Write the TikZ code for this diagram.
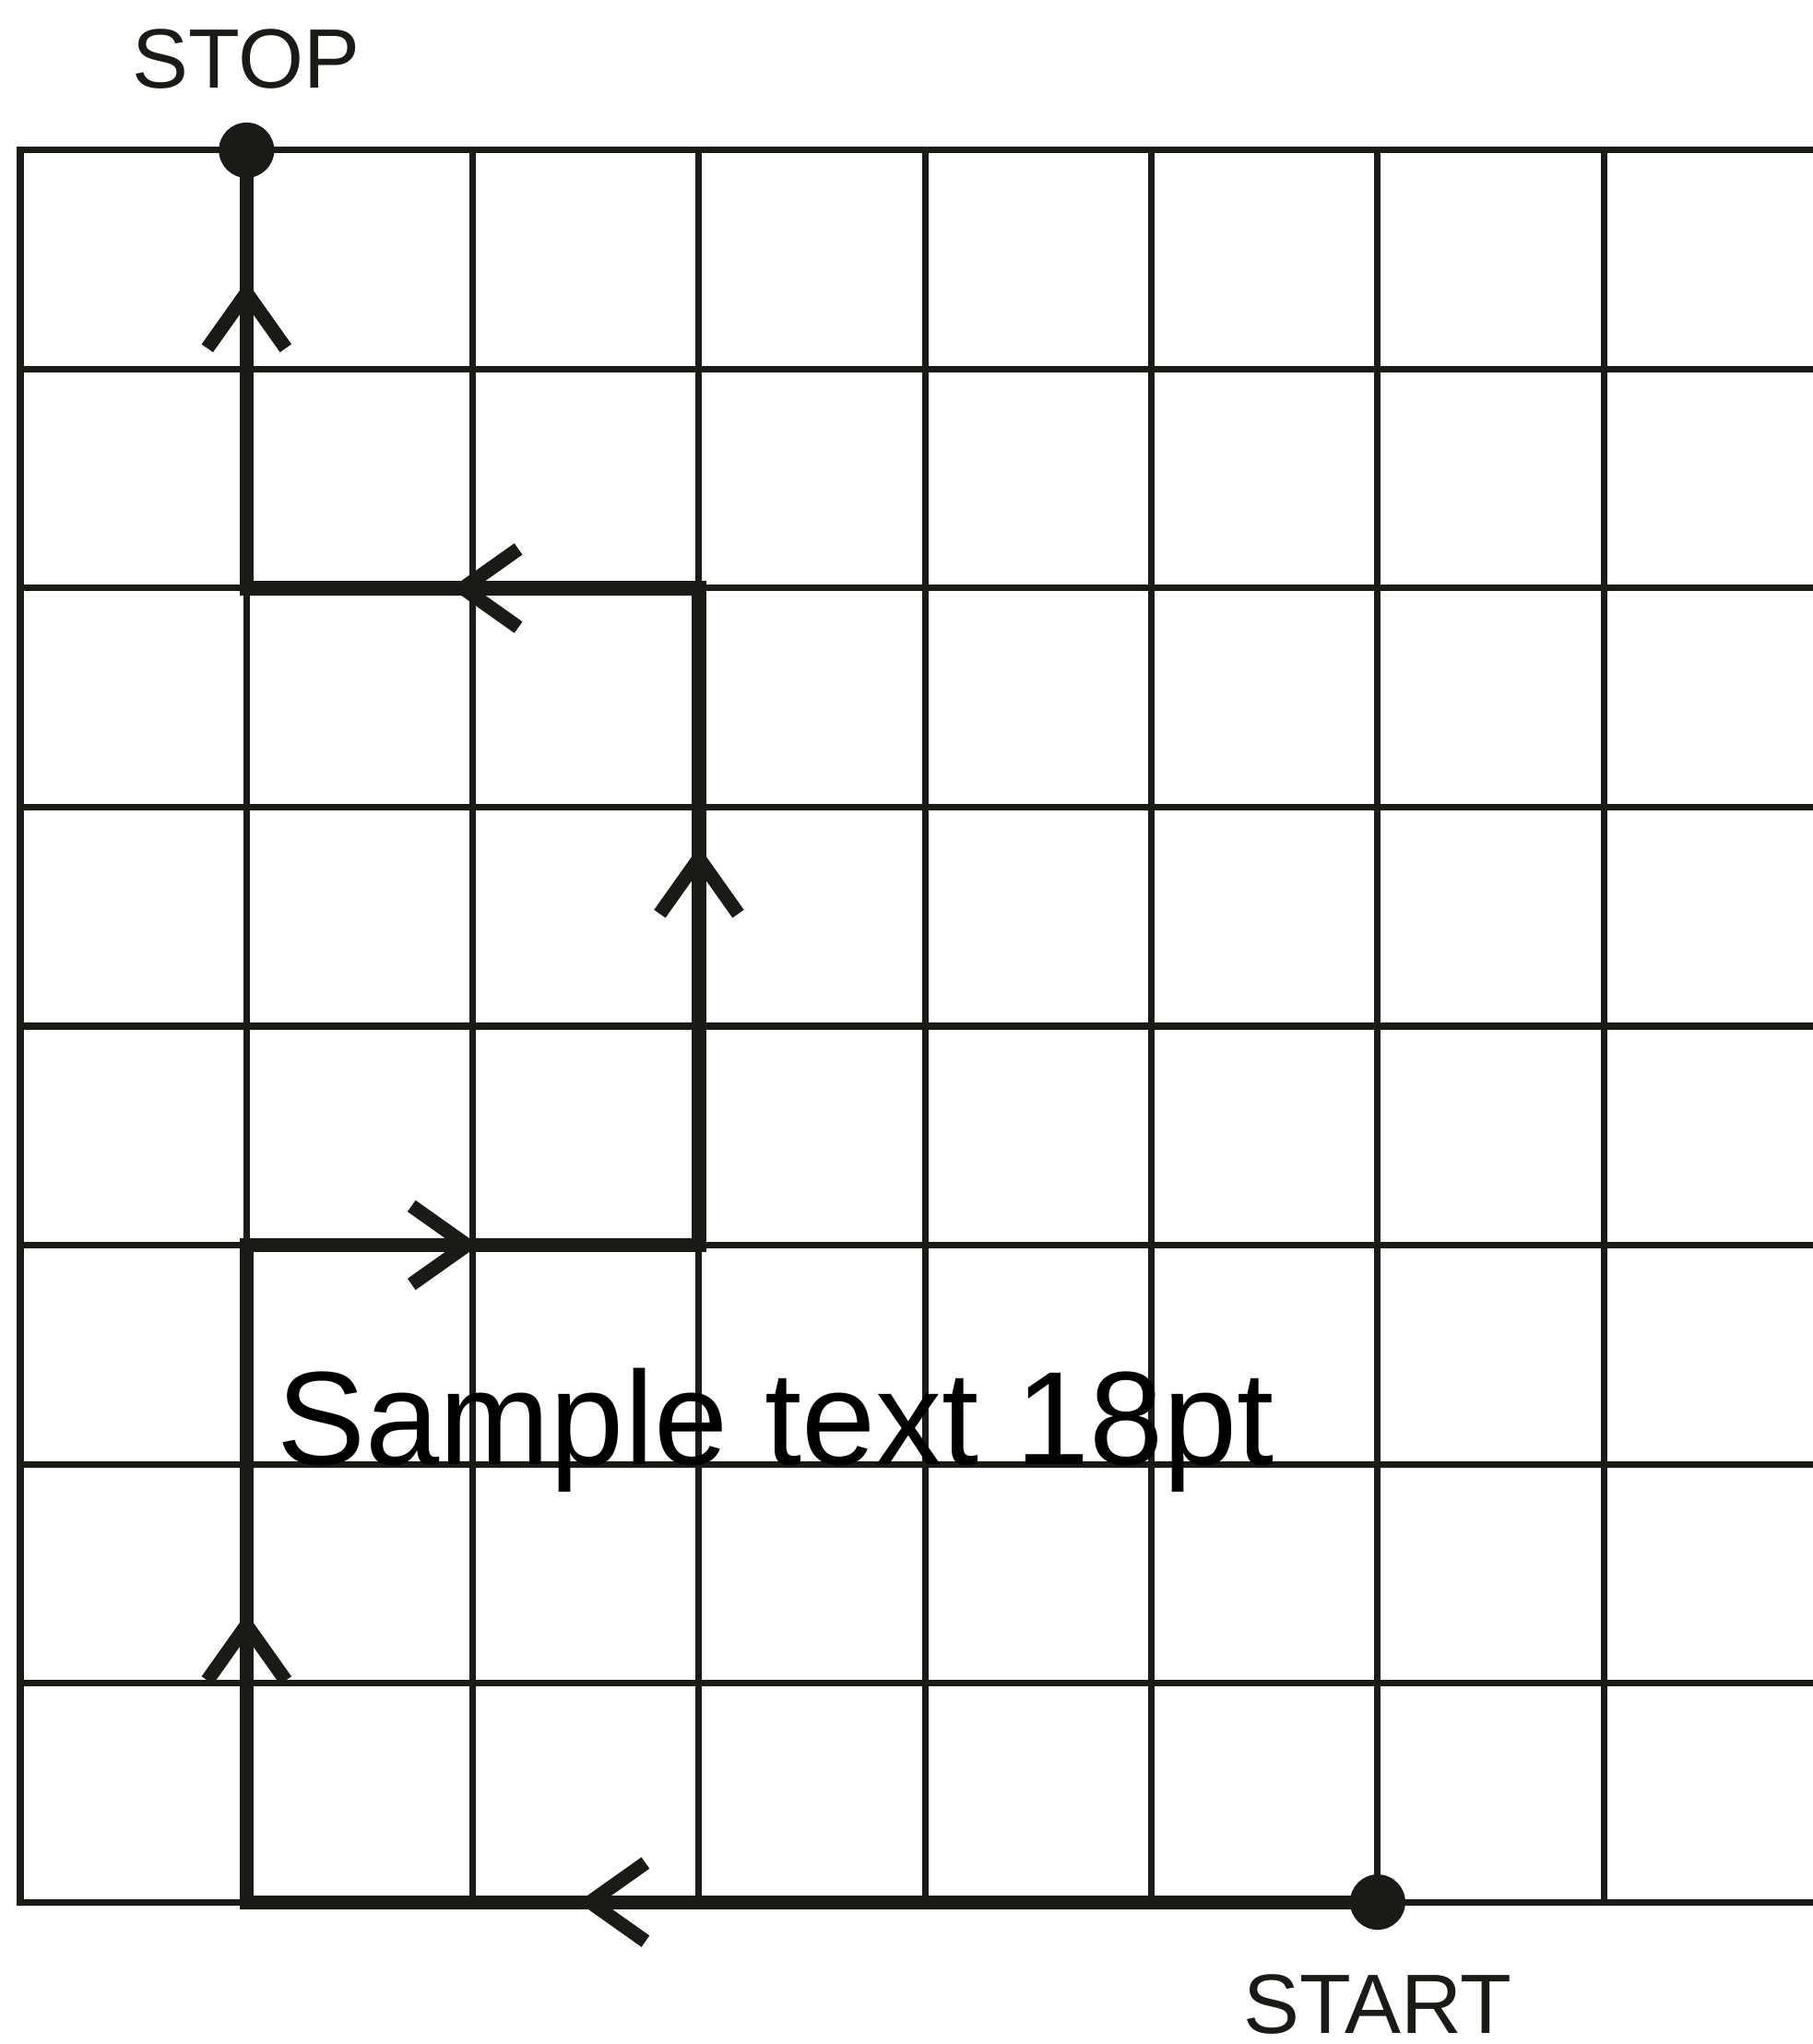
\documentclass[tikz,border=0pt]{standalone}
\usepackage{fontspec}
\setmainfont{Liberation Sans}
\usepackage{tikz}
\usetikzlibrary{positioning, arrows.meta, decorations.markings, calc}
\usepackage{xcolor}
\definecolor{Ink}{HTML}{1C1A17}

\tikzset{
    gridline/.style={draw=Ink, line width=2pt, line cap=rect},
    route/.style={draw=Ink, line width=4.3pt},
    dot/.style={circle, fill=Ink, inner sep=0pt, minimum size=0.6cm},
    tag/.style={font=\fontsize{26}{26}\selectfont\color{Ink}, inner sep=0pt},
    barb/.tip={Straight Barb[length=0.6cm, width=0.85cm]},
    midarrows/.style={postaction={decorate}, decoration={markings,
        mark=at position 8.67cm with {\arrow{barb}},
        mark=at position 15.40cm with {\arrow{barb}},
        mark=at position 21.91cm with {\arrow{barb}},
        mark=at position 28.62cm with {\arrow{barb}},
        mark=at position 34.11cm with {\arrow{barb}},
        mark=at position 39.66cm with {\arrow{barb}}}}
}

\begin{document}
\begin{tikzpicture}[x=2.453cm, y=2.375cm]
            \useasboundingbox (-0.0897,-0.648) rectangle (7.921,8.686);
            % grid
            \foreach \r in {0,...,8}
                \draw[gridline] (0,\r) -- (7.921,\r);
            \foreach \c in {0,...,7}
                \draw[gridline] (\c,0) -- (\c,8);
            % route
            \coordinate (c1) at (1,0);
            \coordinate (c2) at (1,3);
            \coordinate (c3) at (3,3);
            \coordinate (c4) at (3,6);
            \coordinate (c5) at (1,6);
            \node[dot] (start) at (6,0) {};
            \node[dot] (stop) at (1,8) {};
            \draw[route, midarrows] (start.center) -- (c1) -- (c2) -- (c3)
                -- (c4) -- (c5) -- (stop.center);
            \node[tag, above=0.35cm of stop] (stoptag) {STOP};
            \node[tag, below=0.47cm of start] (starttag) {START};
            \node[anchor=base west, inner sep=0pt,
                  font=\fontsize{41}{41}\selectfont] (sample) at (1.133,2) {Sample text 18pt};
        \end{tikzpicture}
\end{document}
